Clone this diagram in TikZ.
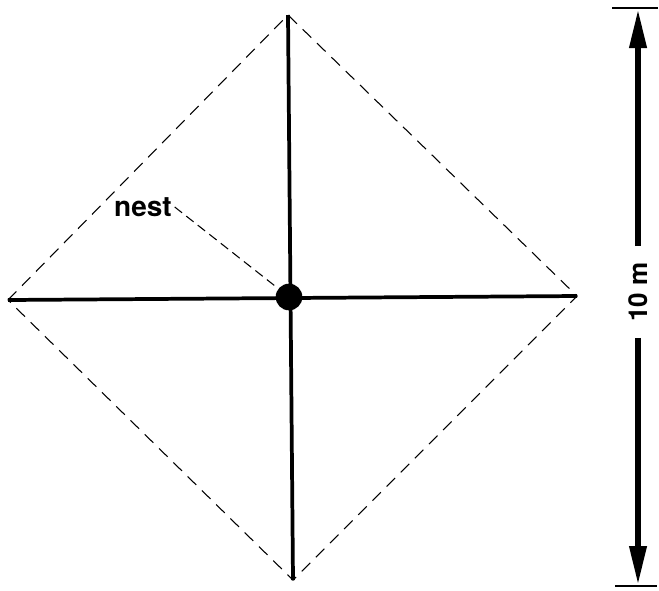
\documentclass[tikz,border=0pt]{standalone}
\usepackage{fontspec}
\setmainfont{TeX Gyre Heros}
\usetikzlibrary{arrows.meta,positioning}
\definecolor{inkclr}{RGB}{0,0,0}
\tikzset{
  axisln/.style={line width=2.8pt,color=inkclr},
  edgeln/.style={dash pattern=on 9pt off 6pt,line width=0.8pt,color=inkclr},
  leadln/.style={dash pattern=on 7pt off 4pt,line width=0.8pt,color=inkclr},
  nestdot/.style={circle,fill=inkclr,inner sep=0pt,minimum size=20pt},
  nestlbl/.style={font=\fontsize{21}{21}\selectfont\bfseries,inner sep=2pt,text=inkclr},
  scalelbl/.style={font=\fontsize{19.5}{19.5}\selectfont\bfseries,rotate=90,
    inner xsep=12pt,inner ysep=2pt,text=inkclr},
  scalearr/.style={-{Triangle[length=30pt,width=12pt]},line width=5pt,color=inkclr},
  tickln/.style={line width=2pt,color=inkclr},
}
\begin{document}
\begin{tikzpicture}[x=0.75pt,y=-0.75pt]
  \useasboundingbox (0,0) rectangle (659,590);
  % corners of the square plot
  \coordinate (top)   at (288,15);
  \coordinate (left)  at (8,300);
  \coordinate (right) at (577,296);
  \coordinate (bot)   at (293,580);
  \node[nestdot] (nest) at (289,297) {};
  \node[nestlbl] (nestl) at (143,207) {nest};

  \draw[edgeln] (left) -- (top) -- (right) -- (bot) -- cycle;
  \draw[axisln] (left) -- (right);
  \draw[axisln] (top) -- (bot);
  \draw[leadln] (nestl.east) -- (nest);

  % scale bar
  \coordinate (sbtop) at (638,8);
  \coordinate (sbbot) at (638,586);
  \node[scalelbl] (len) at (638,292) {10 m};
  \draw[scalearr] (len) -- (sbtop);
  \draw[scalearr] (len) -- (sbbot);
  \draw[tickln] (sbtop) +(-26,0) -- +(20,0);
  \draw[tickln] (sbbot) +(-23,0) -- +(19,0);
\end{tikzpicture}
\end{document}
